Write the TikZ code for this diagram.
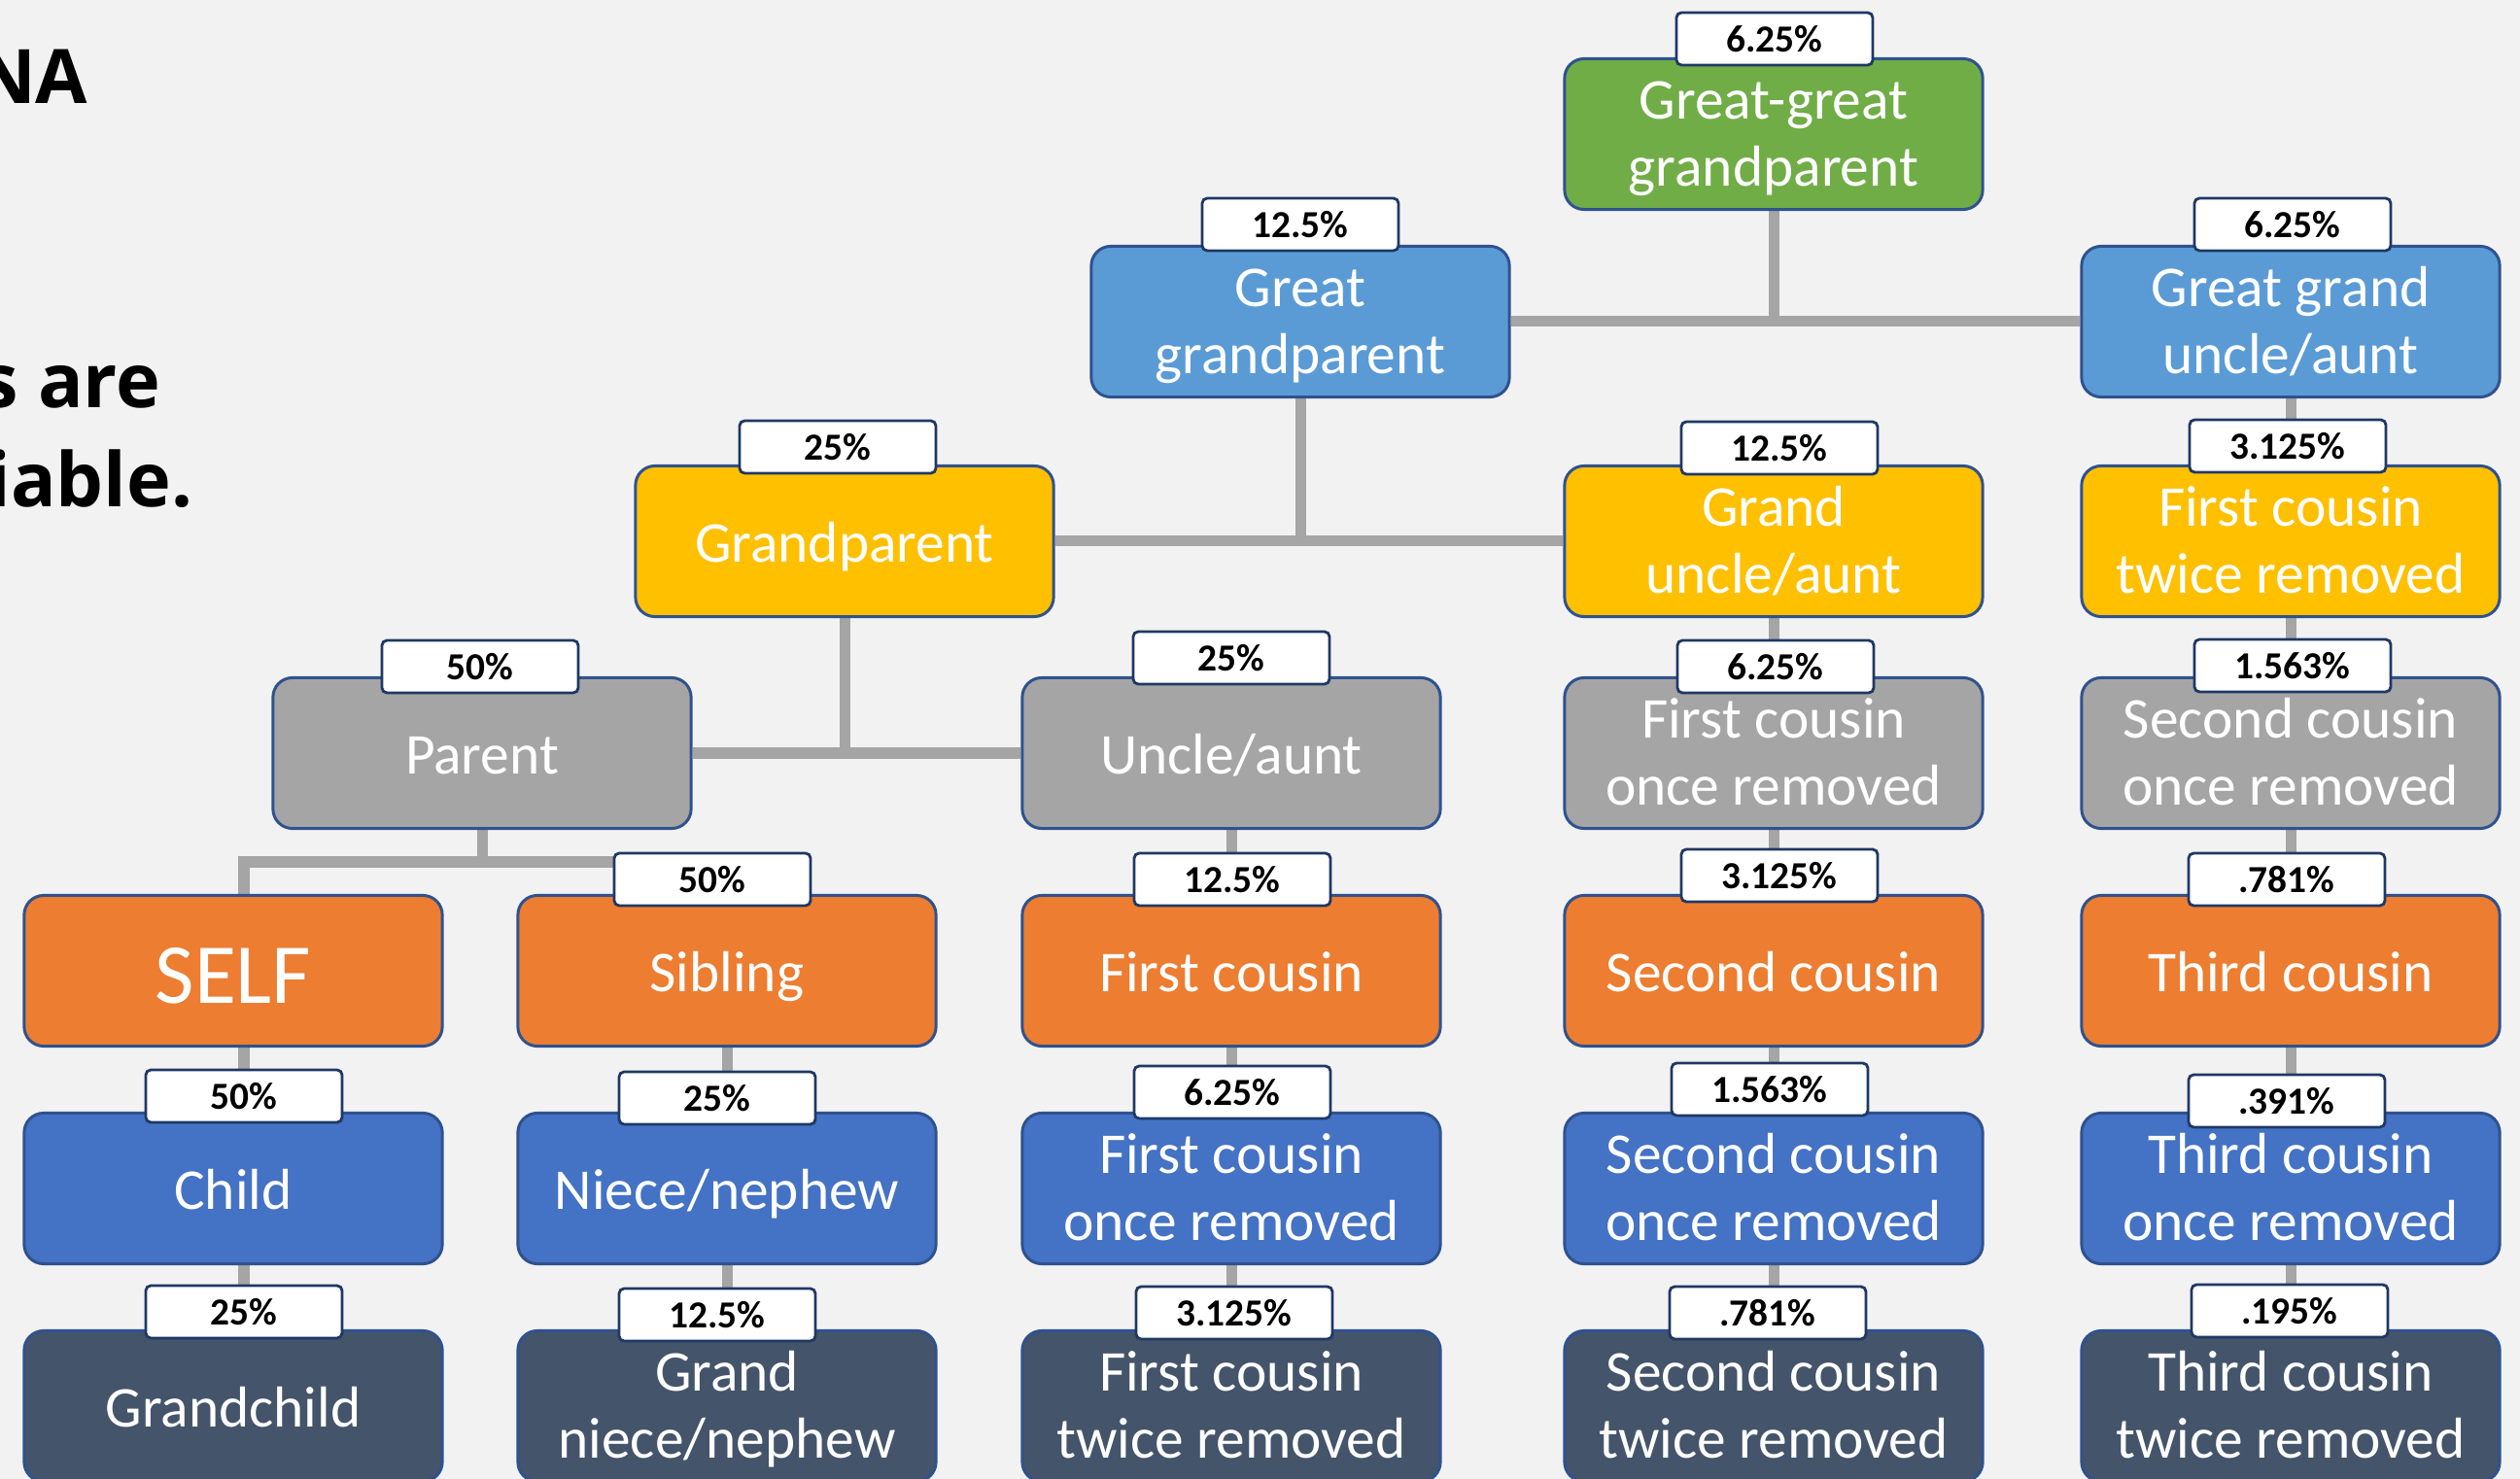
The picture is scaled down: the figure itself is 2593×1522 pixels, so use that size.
\documentclass[tikz,border=0pt]{standalone}
\usepackage{fontspec}
\setmainfont{Carlito}
\newfontfamily\headfont{Open Sans}
\usetikzlibrary{backgrounds}
\definecolor{bg}{HTML}{F2F2F2}
\definecolor{boxline}{HTML}{2F528F}
\definecolor{pctline}{HTML}{1F3864}
\definecolor{linkgray}{HTML}{A5A5A5}
\definecolor{cgreen}{HTML}{70AD47}
\definecolor{cltblue}{HTML}{5B9BD5}
\definecolor{cgold}{HTML}{FFC000}
\definecolor{cgray}{HTML}{A5A5A5}
\definecolor{corange}{HTML}{ED7D31}
\definecolor{cblue}{HTML}{4472C4}
\definecolor{cdark}{HTML}{44546A}
\begin{document}
\begin{tikzpicture}[x=0.01cm,y=-0.01cm,
    box/.style={draw=boxline,line width=0.85pt,rounded corners=0.2cm,fill=#1,
      minimum width=4.3cm,minimum height=1.55cm,inner sep=0pt,text=white,
      align=center,font=\fontsize{16.9}{19.8}\selectfont,
      execute at begin node={\rule{0pt}{17pt}},
      execute at end node={\rule[-4.8pt]{0pt}{4.8pt}}},
    twolines/.style={execute at begin node={\rule{0pt}{35.4pt}}},
    bigtext/.style={font=\fontsize{25}{30}\selectfont,
      execute at begin node={\rule{0pt}{26.5pt}},
      execute at end node={\rule[-7.2pt]{0pt}{7.2pt}}},
    pct/.style={draw=pctline,line width=0.8pt,fill=white,rounded corners=1.5pt,
      minimum width=2.02cm,minimum height=0.54cm,inner sep=0pt,
      font=\bfseries\fontsize{11.2}{13}\selectfont},
    link/.style={draw=linkgray,line width=0.11cm},
    head/.style={anchor=base east,inner sep=0pt,
      font=\headfont\bfseries\fontsize{22}{26}\selectfont}]
    \useasboundingbox (0,0) rectangle (2593,1522);
    % boxes
    \node[box=cgreen,twolines] (ggp) at (1825,138) {Great-great\\grandparent};
    \node[box=cltblue,twolines] (gg) at (1338,331) {Great\\grandparent};
    \node[box=cltblue,twolines] (ggua) at (2357,331) {Great grand\\uncle/aunt};
    \node[box=cgold] (gp) at (869,557) {Grandparent};
    \node[box=cgold,twolines] (gua) at (1825,557) {Grand\\uncle/aunt};
    \node[box=cgold,twolines] (fcA) at (2357,557) {First cousin\\twice removed};
    \node[box=cgray] (par) at (496,775) {Parent};
    \node[box=cgray] (unc) at (1267,775) {Uncle/aunt};
    \node[box=cgray,twolines] (fcB) at (1825,775) {First cousin\\once removed};
    \node[box=cgray,twolines] (scA) at (2357,775) {Second cousin\\once removed};
    \node[box=corange,bigtext] (self) at (240,999) {SELF};
    \node[box=corange] (sib) at (748,999) {Sibling};
    \node[box=corange] (fc) at (1267,999) {First cousin};
    \node[box=corange] (sc) at (1825,999) {Second cousin};
    \node[box=corange] (tc) at (2357,999) {Third cousin};
    \node[box=cblue] (child) at (240,1223) {Child};
    \node[box=cblue] (niece) at (748,1223) {Niece/nephew};
    \node[box=cblue,twolines] (fc1) at (1267,1223) {First cousin\\once removed};
    \node[box=cblue,twolines] (sc1) at (1825,1223) {Second cousin\\once removed};
    \node[box=cblue,twolines] (tc1) at (2357,1223) {Third cousin\\once removed};
    \node[box=cdark] (gchild) at (240,1447) {Grandchild};
    \node[box=cdark,twolines] (gniece) at (748,1447) {Grand\\niece/nephew};
    \node[box=cdark,twolines] (fc2) at (1267,1447) {First cousin\\twice removed};
    \node[box=cdark,twolines] (sc2) at (1825,1447) {Second cousin\\twice removed};
    \node[box=cdark,twolines] (tc2) at (2357,1447) {Third cousin\\twice removed};
    % percentages
    \node[pct] (lggp) at (1826,40) {6.25\%};
    \node[pct] (lgg) at (1338,231) {12.5\%};
    \node[pct] (lggua) at (2359,231) {6.25\%};
    \node[pct] (lgp) at (862,460) {25\%};
    \node[pct] (lgua) at (1831,461) {12.5\%};
    \node[pct] (lfcA) at (2354,459) {3.125\%};
    \node[pct] (lpar) at (494,686) {50\%};
    \node[pct] (lunc) at (1267,677) {25\%};
    \node[pct] (lfcB) at (1827,686) {6.25\%};
    \node[pct] (lscA) at (2359,685) {1.563\%};
    \node[pct] (lsib) at (733,905) {50\%};
    \node[pct] (lfc) at (1268,905) {12.5\%};
    \node[pct] (lsc) at (1831,901) {3.125\%};
    \node[pct] (ltc) at (2353,905) {.781\%};
    \node[pct] (lchild) at (251,1128) {50\%};
    \node[pct] (lniece) at (738,1130) {25\%};
    \node[pct] (lfc1) at (1268,1124) {6.25\%};
    \node[pct] (lsc1) at (1821,1121) {1.563\%};
    \node[pct] (ltc1) at (2353,1133) {.391\%};
    \node[pct] (lgchild) at (251,1350) {25\%};
    \node[pct] (lgniece) at (738,1353) {12.5\%};
    \node[pct] (lfc2) at (1270,1351) {3.125\%};
    \node[pct] (lsc2) at (1819,1351) {.781\%};
    \node[pct] (ltc2) at (2356,1349) {.195\%};
    % cut-off heading
    \node[head] (hdna) at (91,107) {NA};
    \node[head] (hare) at (166,420) {s are};
    \node[head] (hable) at (199,522) {iable.};
    \coordinate (fork) at (496,887);
    \begin{pgfonlayer}{background}
    \fill[bg] (0,0) rectangle (2593,1522);
    \draw[link] (ggp.south) -- (ggp.south |- gg.east);
    \draw[link] (gg.east) -- (ggua.west);
    \draw[link] (gg.south) -- (gg.south |- gp.east);
    \draw[link] (gp.east) -- (gua.west);
    \draw[link] (gp.south) -- (gp.south |- par.east);
    \draw[link] (par.east) -- (unc.west);
    \draw[link] (par.south) -- (fork);
    \draw[link] (lchild |- self.north) |- (sib.north |- fork) -- (sib.north);
    \draw[link] (lchild |- self.south) -- (lchild);
    \draw[link] (lgchild |- child.south) -- (lgchild);
    \draw[link] (sib) -- (niece) -- (gniece);
    \draw[link] (unc) -- (fc) -- (fc1) -- (fc2);
    \draw[link] (gua) -- (fcB) -- (sc) -- (sc1) -- (sc2);
    \draw[link] (ggua) -- (fcA) -- (scA) -- (tc) -- (tc1) -- (tc2);
    \end{pgfonlayer}
\end{tikzpicture}
\end{document}
